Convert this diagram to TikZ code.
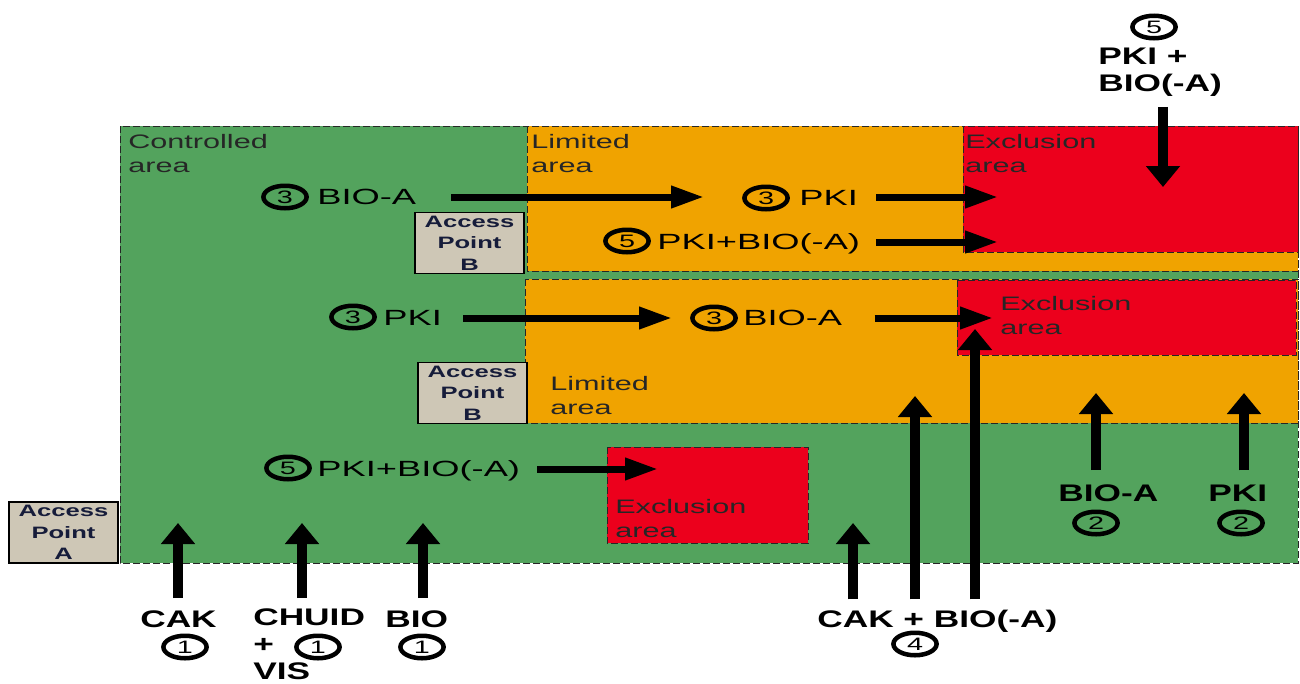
\documentclass[tikz,border=0pt]{standalone}
\usepackage{fontspec}
\setmainfont{Liberation Sans}
\usetikzlibrary{arrows.meta,shapes.geometric}
\definecolor{ctrlgreen}{RGB}{83,163,93}
\definecolor{limorange}{RGB}{240,163,0}
\definecolor{exclred}{RGB}{236,0,28}
\definecolor{apgrey}{RGB}{206,199,182}
\definecolor{apblue}{RGB}{22,28,58}

\begin{document}
\begin{tikzpicture}[x=1pt,y=1pt,yscale=-1,
        zone/.style={draw=black!85,line width=1pt,dash pattern=on 7pt off 3pt},
        zonetext/.style={anchor=north west,inner sep=0pt,align=left,xscale=1.57,text=black!85,font=\fontsize{19.5}{24.5}\selectfont},
        cred/.style={anchor=base west,inner sep=0pt,xscale=1.65,font=\fontsize{22}{26}\selectfont},
        entry/.style={inner sep=0pt,xscale=1.47,align=left,font=\bfseries\fontsize{24}{27}\selectfont},
        num/.style={draw,ellipse,line width=4.5pt,minimum width=27pt,minimum height=22.5pt,inner sep=0pt,xscale=1.6,font=\fontsize{18}{18}\selectfont},
        apbox/.style={draw,fill=apgrey,line width=1.5pt,minimum width=70.3pt,minimum height=61pt,inner sep=0pt,align=center,xscale=1.55,text=apblue,font=\bfseries\fontsize{16.5}{21.5}\selectfont},
        harrow/.style={line width=7pt,-{Triangle[length=33pt,width=21pt]}},
        varrow/.style={line width=10pt,-{Triangle[length=21pt,width=33pt]}}]
        \useasboundingbox (0,0) rectangle (1300,683);

        % areas
        \draw[zone,fill=ctrlgreen] (120,126) rectangle (1298,563);
        \draw[zone,fill=limorange] (527,126) rectangle (1298,271);
        \draw[zone,fill=limorange] (525,279) rectangle (1298,423);
        \draw[zone,fill=exclred] (963,126) rectangle (1298,252);
        \draw[zone,fill=exclred] (957,280) rectangle (1296,355);
        \draw[zone,fill=exclred] (607,447) rectangle (808,543);

        \node[zonetext] (ctrl) at (128,134) {Controlled\\area};
        \node[zonetext] (limtop) at (531,134) {Limited\\area};
        \node[zonetext] (exctop) at (965,134) {Exclusion\\area};
        \node[zonetext] (excmid) at (1000,296) {Exclusion\\area};
        \node[zonetext] (limmid) at (550,376) {Limited\\area};
        \node[zonetext] (excbot) at (615,499) {Exclusion\\area};

        % access points
        \node[apbox] (apBtop) at (469.5,243) {Access\\Point\\B};
        \node[apbox] (apBmid) at (472.5,393) {Access\\Point\\B};
        \node[apbox] (apA) at (63.5,532.5) {Access\\Point\\A};

        % credentials inside
        \node[num] (n3a) at (285,197) {3};
        \node[cred] (bioa1) at (317,204.5) {BIO-A};
        \node[num] (n3b) at (766,198) {3};
        \node[cred] (pki1) at (799,205) {PKI};
        \node[num] (n5a) at (627,241) {5};
        \node[cred] (pkibio1) at (657,249.5) {PKI+BIO(-A)};
        \node[num] (n3c) at (353,317) {3};
        \node[cred] (pki2) at (383,325) {PKI};
        \node[num] (n3d) at (714,318) {3};
        \node[cred] (bioa2) at (743,325.5) {BIO-A};
        \node[num] (n5b) at (288,468) {5};
        \node[cred] (pkibio2) at (317,476) {PKI+BIO(-A)};

        \coordinate (t1) at (704,197);
        \coordinate (t2) at (998,197);
        \coordinate (t3) at (998,242);
        \coordinate (t4) at (672,318);
        \coordinate (t5) at (993,318);
        \coordinate (t6) at (658,469);
        \draw[harrow,shorten <=35pt] (bioa1.east |- t1) -- (t1);
        \draw[harrow,shorten <=18pt] (pki1.east |- t2) -- (t2);
        \draw[harrow,shorten <=16pt] (pkibio1.east |- t3) -- (t3);
        \draw[harrow,shorten <=21pt] (pki2.east |- t4) -- (t4);
        \draw[harrow,shorten <=32pt] (bioa2.east |- t5) -- (t5);
        \draw[harrow,shorten <=17pt] (pkibio2.east |- t6) -- (t6);

        % credentials outside
        \node[entry,anchor=base west] (cak) at (140,627) {CAK};
        \node[num] (n1a) at (185,647) {1};
        \node[entry,anchor=north west] (chuid) at (253,609) {CHUID\\+\\VIS};
        \node[num] (n1b) at (318,647) {1};
        \node[entry,anchor=base west] (bio) at (385,627) {BIO};
        \node[num] (n1c) at (422,647) {1};
        \node[entry,anchor=base west] (cakbio) at (817,627) {CAK + BIO(-A)};
        \node[num] (n4) at (915,644) {4};
        \node[entry,anchor=base west] (biob) at (1058,501) {BIO-A};
        \node[num] (n2a) at (1096,523) {2};
        \node[entry,anchor=base west] (pkib) at (1208,501) {PKI};
        \node[num] (n2b) at (1241,523) {2};
        \node[num] (n5c) at (1154,27) {5};
        \node[entry,anchor=north west] (pkitop) at (1098,48) {PKI +\\BIO(-A)};

        \coordinate (v1) at (178,523);
        \coordinate (v2) at (302,523);
        \coordinate (v3) at (423,523);
        \coordinate (v4) at (853,523);
        \coordinate (v5) at (915,396);
        \coordinate (v6) at (975,329);
        \coordinate (v7) at (1096,393);
        \coordinate (v8) at (1244,393);
        \coordinate (v9) at (1163,187);
        \draw[varrow,shorten <=12pt] (cak.north -| v1) -- (v1);
        \draw[varrow,shorten <=11pt] (chuid.north -| v2) -- (v2);
        \draw[varrow,shorten <=12pt] (bio.north -| v3) -- (v3);
        \draw[varrow,shorten <=10pt] (cakbio.north -| v4) -- (v4);
        \draw[varrow,shorten <=10pt] (cakbio.north -| v5) -- (v5);
        \draw[varrow,shorten <=10pt] (cakbio.north -| v6) -- (v6);
        \draw[varrow,shorten <=14pt] (biob.north -| v7) -- (v7);
        \draw[varrow,shorten <=14pt] (pkib.north -| v8) -- (v8);
        \draw[varrow,shorten <=10pt] (pkitop.south -| v9) -- (v9);
\end{tikzpicture}
\end{document}
